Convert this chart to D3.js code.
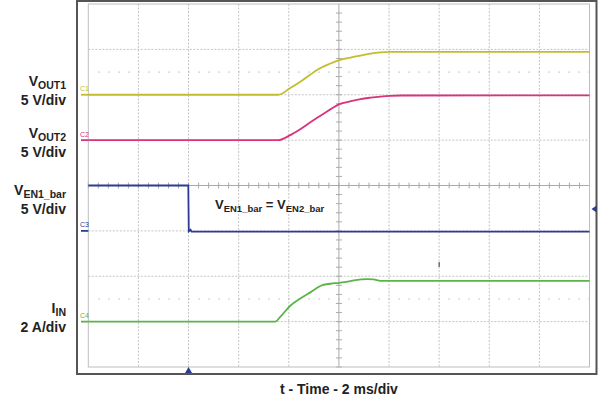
<!DOCTYPE html>
<html>
<head>
<meta charset="utf-8">
<script src="https://cdn.jsdelivr.net/npm/d3@7"></script>
<style>
  body { margin: 0; background: #fff; }
  text { font-family: "Liberation Sans", Arial, sans-serif; font-weight: bold; fill: #222; }
</style>
</head>
<body>
<div id="vis"></div>
<script>
// scope capture: 2 ms/div, 10 x 8 divisions
const FRAME_WIDTH = 598;
const FRAME_HEIGHT = 397;
const GRID = {left: 88.3, right: 589.5, top: 4, bottom: 367};

const TIME_DIVS = [0, 2, 4, 6, 8, 10, 12, 14, 16, 18, 20];   // ms
const VERT_DIVS = [-4, -3, -2, -1, 0, 1, 2, 3, 4];

// time in ms, from the left edge of the screen
const vout1_t = [0, 7.58, 8.06, 8.46, 8.86, 9.26, 9.66, 10.02, 10.46, 10.86, 11.26, 11.66, 12.06, 20];
const vout1_v = [0, 0, 0.74, 1.43, 2.22, 2.94, 3.44, 3.82, 4.10, 4.32, 4.54, 4.67, 4.72, 4.73];

const vout2_t = [0, 7.58, 8.06, 8.46, 8.86, 9.26, 9.66, 10.02, 10.46, 10.86, 11.26, 11.66, 12.06, 12.46, 20];
const vout2_v = [0, 0, 0.55, 1.21, 1.96, 2.68, 3.39, 3.96, 4.27, 4.52, 4.68, 4.80, 4.88, 4.92, 4.93];

const ven_t = [0, 3.99, 4.01, 4.08, 4.12, 4.2, 20];
const ven_v = [5.0, 5.0, -0.05, 0.12, -0.08, -0.08, -0.08];

const iin_t = [0, 7.46, 7.66, 8.06, 8.46, 8.86, 9.34, 9.66, 10.02, 10.46, 10.66, 11.14, 11.38, 11.66, 20];
const iin_a = [0, 0, 0.21, 0.70, 1.02, 1.29, 1.61, 1.67, 1.71, 1.78, 1.83, 1.87, 1.86, 1.80, 1.80];

const CHANNELS = [
  {name: "C1", t: vout1_t, v: vout1_v, offset: 2, perDiv: 5, color: "#c3bc2c", label: ["V", "OUT1", "5 V/div"]},
  {name: "C2", t: vout2_t, v: vout2_v, offset: 1, perDiv: 5, color: "#d8337b", label: ["V", "OUT2", "5 V/div"]},
  {name: "C3", t: ven_t, v: ven_v, offset: -1, perDiv: 5, color: "#2d3b92", label: ["V", "EN1_bar", "5 V/div"], linear: true},
  {name: "C4", t: iin_t, v: iin_a, offset: -3, perDiv: 2, color: "#5ab547", label: ["I", "IN", "2 A/div"]}
];
const LABEL_BASE = [86, 138, 195, 313];

const TRIG_TIME = 4;      // ms
const TRIG_LEVEL = 2.4;   // V on C3

const svg = d3.select("#vis")
  .append("svg")
    .attr("width", FRAME_WIDTH)
    .attr("height", FRAME_HEIGHT);

svg.append("rect").attr("width", FRAME_WIDTH).attr("height", FRAME_HEIGHT).attr("fill", "#fff");

const X_SCALE = d3.scaleLinear().domain([0, 20]).range([GRID.left, GRID.right]);
const Y_DIV = d3.scaleLinear().domain([-4, 4]).range([GRID.bottom, GRID.top]);

// outer frame
svg.append("rect")
  .attr("x", 77).attr("y", 1)
  .attr("width", 519.5).attr("height", 373)
  .attr("fill", "none").attr("stroke", "#555").attr("stroke-width", 2);

// grid
const grid = svg.append("g");
grid.selectAll(".vg")
  .data(TIME_DIVS.filter(d => d > 0 && d < 20 && d !== 10))
  .enter().append("line")
    .attr("x1", d => X_SCALE(d)).attr("x2", d => X_SCALE(d))
    .attr("y1", GRID.top).attr("y2", GRID.bottom)
    .attr("stroke", "#c4c4c4").attr("stroke-dasharray", "2,1.5");
grid.selectAll(".hg")
  .data(VERT_DIVS.filter(d => d > -4 && d < 4 && d !== 0))
  .enter().append("line")
    .attr("y1", d => Y_DIV(d)).attr("y2", d => Y_DIV(d))
    .attr("x1", GRID.left).attr("x2", GRID.right)
    .attr("stroke", "#c4c4c4").attr("stroke-dasharray", "2,1.5");

// sparse dotted rows
grid.selectAll(".dr")
  .data([2.5, -2.5])
  .enter().append("line")
    .attr("y1", d => Y_DIV(d)).attr("y2", d => Y_DIV(d))
    .attr("x1", X_SCALE(0.4)).attr("x2", GRID.right)
    .attr("stroke", "#b8b8b8").attr("stroke-dasharray", "1.5,8.5");

// center axes with minor ticks
grid.append("line")
  .attr("x1", GRID.left).attr("x2", GRID.right)
  .attr("y1", Y_DIV(0)).attr("y2", Y_DIV(0))
  .attr("stroke", "#aaa");
grid.append("line")
  .attr("x1", X_SCALE(10)).attr("x2", X_SCALE(10))
  .attr("y1", GRID.top).attr("y2", GRID.bottom)
  .attr("stroke", "#aaa");
grid.selectAll(".mx")
  .data(d3.range(0, 50).map(i => i * 0.4))
  .enter().append("line")
    .attr("x1", d => X_SCALE(d)).attr("x2", d => X_SCALE(d))
    .attr("y1", Y_DIV(0) - 3).attr("y2", Y_DIV(0) + 3)
    .attr("stroke", "#aaa");
grid.selectAll(".my")
  .data(d3.range(-20, 20).map(i => i * 0.2))
  .enter().append("line")
    .attr("y1", d => Y_DIV(d)).attr("y2", d => Y_DIV(d))
    .attr("x1", X_SCALE(10) - 3).attr("x2", X_SCALE(10) + 3)
    .attr("stroke", "#aaa");

grid.append("rect")
  .attr("x", GRID.left).attr("y", GRID.top)
  .attr("width", GRID.right - GRID.left).attr("height", GRID.bottom - GRID.top)
  .attr("fill", "none").attr("stroke", "#bdbdbd");

// traces
CHANNELS.forEach((ch, i) => {
  const yOf = (v) => Y_DIV(ch.offset + v / ch.perDiv);
  const line = d3.line()
    .x(d => X_SCALE(d[0]))
    .y(d => yOf(d[1]))
    .curve(ch.linear ? d3.curveLinear : d3.curveMonotoneX);

  svg.append("path")
    .datum(d3.zip(ch.t, ch.v))
    .attr("d", line)
    .attr("fill", "none")
    .attr("stroke", ch.color)
    .attr("stroke-width", 1.8);

  // ground marker + channel tag
  svg.append("line")
    .attr("x1", 81).attr("x2", GRID.left)
    .attr("y1", yOf(0)).attr("y2", yOf(0))
    .attr("stroke", ch.color).attr("stroke-width", 1.8);
  svg.append("text")
    .attr("x", 80).attr("y", yOf(0) - 3.5)
    .attr("font-size", 7).style("font-weight", "normal")
    .style("fill", ch.color)
    .text(ch.name);

  // left labels
  const lab = svg.append("text")
    .attr("x", 66).attr("y", LABEL_BASE[i])
    .attr("text-anchor", "end")
    .attr("font-size", 14);
  lab.append("tspan").text(ch.label[0]);
  lab.append("tspan").attr("font-size", 10.5).attr("dy", 3).text(ch.label[1]);
  svg.append("text")
    .attr("x", 66).attr("y", LABEL_BASE[i] + 19)
    .attr("text-anchor", "end")
    .attr("font-size", 14)
    .text(ch.label[2]);
});

// trigger markers
const C3 = CHANNELS[2];
const trigY = Y_DIV(C3.offset + TRIG_LEVEL / C3.perDiv);
svg.append("path")
  .attr("d", `M${X_SCALE(TRIG_TIME)},${GRID.bottom} l3.5,6 l-7,0 Z`)
  .attr("fill", C3.color);
svg.append("path")
  .attr("d", `M${GRID.right + 2},${trigY} l5,-3.5 l0,7 Z`)
  .attr("fill", C3.color);

// small cursor mark
svg.append("line")
  .attr("x1", X_SCALE(14)).attr("x2", X_SCALE(14))
  .attr("y1", 262).attr("y2", 267)
  .attr("stroke", "#333").attr("stroke-width", 1);

// annotation
const ann = svg.append("text")
  .attr("x", 215).attr("y", 209)
  .attr("font-size", 13);
ann.append("tspan").text("V");
ann.append("tspan").attr("font-size", 9.5).attr("dy", 3).text("EN1_bar");
ann.append("tspan").attr("dy", -3).text(" = V");
ann.append("tspan").attr("font-size", 9.5).attr("dy", 3).text("EN2_bar");

// x title
svg.append("text")
  .attr("x", X_SCALE(10)).attr("y", 394)
  .attr("text-anchor", "middle")
  .attr("font-size", 14)
  .text("t - Time - 2 ms/div");
</script>
</body>
</html>
